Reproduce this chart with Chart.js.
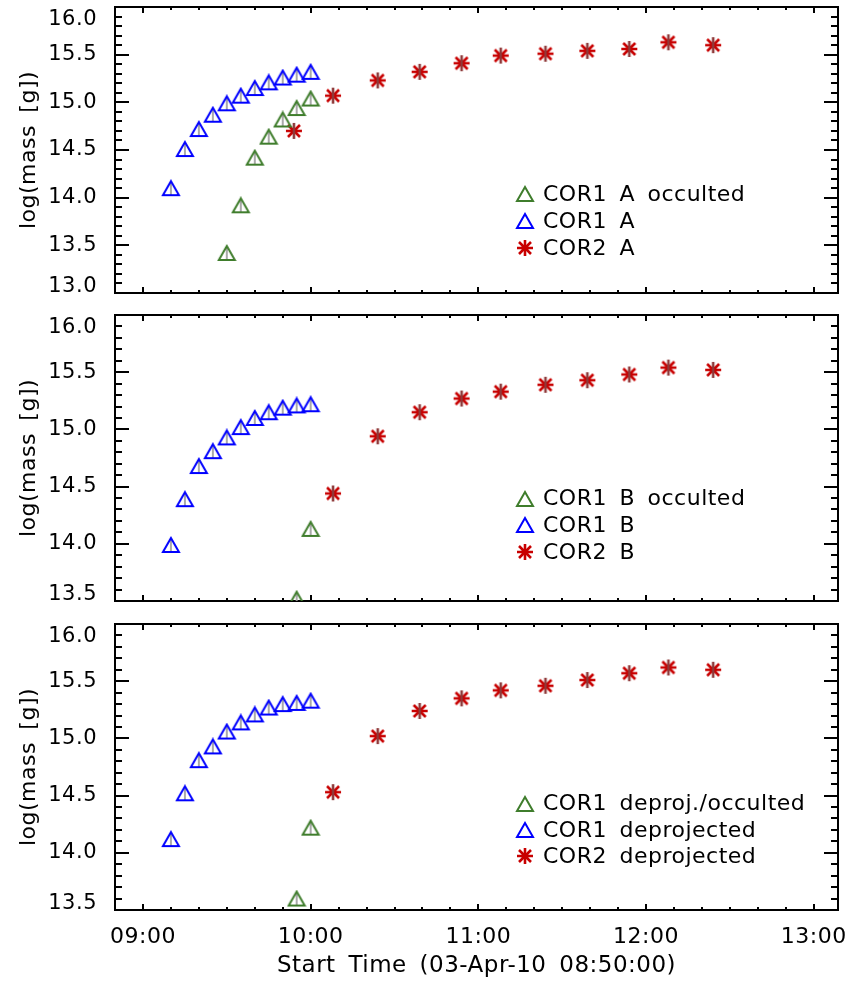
<!DOCTYPE html>
<html>
<head>
<meta charset="utf-8">
<script src="https://cdn.jsdelivr.net/npm/chart.js@4/dist/chart.umd.min.js"></script>
<style>
  html, body { margin: 0; padding: 0; background: #ffffff; }
  #wrap { position: relative; width: 849px; height: 983px; background: #ffffff; }
  canvas { position: absolute; left: 0; }
</style>
</head>
<body>
<div id="wrap">
  <canvas id="c1" width="849" height="305" style="top:0px"></canvas>
  <canvas id="c2" width="849" height="310" style="top:303px"></canvas>
  <canvas id="c3" width="849" height="371" style="top:612px"></canvas>
</div>
<script>
// ---------------- DATA ----------------
const X_ORIGIN = '08:50';                       // "Start Time"
const X_TICK_LABELS = ['09:00', '10:00', '11:00', '12:00', '13:00'];
const X_END = '13:08:40';

const COR1_TIMES   = ['09:10','09:15','09:20','09:25','09:30','09:35','09:40','09:45','09:50','09:55','10:00'];
const OCC_TIMES_A  = ['09:30','09:35','09:40','09:45','09:50','09:55','10:00'];
const OCC_TIMES_B  = ['09:55','10:00'];
const COR2_TIMES_A = ['09:54','10:08','10:24','10:39','10:54','11:08','11:24','11:39','11:54','12:08','12:24'];
const COR2_TIMES_B = ['10:08','10:24','10:39','10:54','11:08','11:24','11:39','11:54','12:08','12:24'];

// Panel 1 : STEREO A
const occA  = [13.42, 13.92, 14.42, 14.64, 14.82, 14.94, 15.04];
const cor1A = [14.10, 14.51, 14.72, 14.87, 14.99, 15.07, 15.15, 15.21, 15.26, 15.29, 15.32];
const cor2A = [14.70, 15.07, 15.23, 15.32, 15.41, 15.49, 15.51, 15.54, 15.56, 15.63, 15.60];
// Panel 2 : STEREO B
const occB  = [13.52, 14.13];
const cor1B = [13.99, 14.39, 14.68, 14.81, 14.93, 15.02, 15.10, 15.15, 15.19, 15.21, 15.22];
const cor2B = [14.44, 14.94, 15.15, 15.27, 15.33, 15.39, 15.43, 15.48, 15.54, 15.52];
// Panel 3 : deprojected
const occD  = [13.60, 14.22];
const cor1D = [14.12, 14.52, 14.81, 14.93, 15.06, 15.14, 15.21, 15.27, 15.30, 15.31, 15.33];
const cor2D = [14.53, 15.02, 15.24, 15.35, 15.42, 15.46, 15.51, 15.57, 15.62, 15.60];

const Y_TICKS_1   = [13.0, 13.5, 14.0, 14.5, 15.0, 15.5, 16.0];
const Y_TICKS_23  = [13.5, 14.0, 14.5, 15.0, 15.5, 16.0];

const LABELS_1 = ['COR1 A occulted', 'COR1 A', 'COR2 A'];
const LABELS_2 = ['COR1 B occulted', 'COR1 B', 'COR2 B'];
const LABELS_3 = ['COR1 deproj./occulted', 'COR1 deprojected', 'COR2 deprojected'];

// ---------------- HELPERS ----------------
function toMin(t) {               // minutes since X_ORIGIN
  const p = t.split(':').map(Number);
  const o = X_ORIGIN.split(':').map(Number);
  return (p[0] * 60 + p[1] + (p[2] || 0) / 60) - (o[0] * 60 + o[1]);
}
function pts(times, vals) { return vals.map((v, i) => ({ x: toMin(times[i]), y: v })); }

const FONT = 'DejaVu Sans';
const GREEN = '#3f7d2c', BLUE = '#0000ff', RED = '#c80000';

function triImg(color, stem) {
  const c = document.createElement('canvas'); c.width = 20; c.height = 18;
  const g = c.getContext('2d');
  if (stem) { g.strokeStyle = '#a0a0a0'; g.lineWidth = 1.8; g.beginPath(); g.moveTo(10, 4); g.lineTo(10, 15.5); g.stroke(); }
  g.strokeStyle = color; g.lineWidth = 2; g.lineJoin = 'miter';
  g.beginPath(); g.moveTo(2, 16); g.lineTo(10, 2); g.lineTo(18, 16); g.closePath(); g.stroke();
  return c;
}
function starImg(color, stemColor) {
  const c = document.createElement('canvas'); c.width = 20; c.height = 20;
  const g = c.getContext('2d');
  g.strokeStyle = color; g.lineWidth = 2.6;
  g.beginPath();
  g.moveTo(2, 10); g.lineTo(18, 10);
  g.moveTo(4, 4); g.lineTo(16, 16);
  g.moveTo(16, 4); g.lineTo(4, 16);
  g.stroke();
  g.strokeStyle = stemColor; g.lineWidth = 2.6;
  g.beginPath(); g.moveTo(10, 2); g.lineTo(10, 18); g.stroke();
  return c;
}
const TRI_G = triImg(GREEN, true), TRI_B = triImg(BLUE, true), STAR_R = starImg(RED, '#8e3a3a');
const LTRI_G = triImg(GREEN, false), LTRI_B = triImg(BLUE, false), LSTAR_R = starImg(RED, RED);

// ---------------- PLUGIN: IDL-style frame, inward ticks, legend ----------------
const idlAxes = {
  id: 'idlAxes',
  beforeDraw(chart) {
    chart.ctx.letterSpacing = '0.5px';
    chart.ctx.wordSpacing = '5px';
  },
  beforeDatasetsDraw(chart) {
    const ctx = chart.ctx;
    const { left, right, top, bottom } = chart.chartArea;
    const xs = chart.scales.x, ys = chart.scales.y;
    ctx.save();
    ctx.strokeStyle = '#000'; ctx.lineWidth = 2;
    ctx.beginPath();
    for (let k = Math.round(ys.min * 10); k <= Math.round(ys.max * 10); k++) {
      const p = Math.round(ys.getPixelForValue(k / 10));
      const len = (k % 5 === 0) ? 14 : 7;
      ctx.moveTo(left, p); ctx.lineTo(left + len, p);
      ctx.moveTo(right, p); ctx.lineTo(right - len, p);
    }
    for (let m = 0; m <= xs.max + 1e-6; m += 10) {
      const p = Math.round(xs.getPixelForValue(m));
      const len = ((m - 10) % 60 === 0) ? 6 : 3;
      ctx.moveTo(p, bottom); ctx.lineTo(p, bottom - len);
      ctx.moveTo(p, top); ctx.lineTo(p, top + len);
    }
    ctx.stroke();
    ctx.strokeRect(left, top, right - left, bottom - top);
    ctx.restore();
  },
  afterDatasetsDraw(chart, args, opts) {
    const ctx = chart.ctx;
    const { left, top } = chart.chartArea;
    ctx.save();
    ctx.font = '22px "' + FONT + '"';
    ctx.fillStyle = '#000'; ctx.textBaseline = 'middle'; ctx.textAlign = 'left';
    chart.data.datasets.forEach((ds, i) => {
      const y = top + opts.y0 + i * opts.dy;
      const img = ds.legendSymbol;
      ctx.drawImage(img, Math.round(left + opts.symX - img.width / 2), Math.round(y - img.height / 2));
      ctx.fillText(ds.label, left + opts.textX, y + 1);
    });
    ctx.restore();
  }
};

function makeChart(id, sets, labels, yMin, yMax, yTicks, showX, pad, legendPos) {
  const datasets = [
    { label: labels[0], data: pts(sets[0][0], sets[0][1]), pointStyle: TRI_G, legendSymbol: LTRI_G },
    { label: labels[1], data: pts(sets[1][0], sets[1][1]), pointStyle: TRI_B, legendSymbol: LTRI_B },
    { label: labels[2], data: pts(sets[2][0], sets[2][1]), pointStyle: STAR_R, legendSymbol: LSTAR_R }
  ].map(d => Object.assign(d, { showLine: false, pointRadius: 8, pointHoverRadius: 8, clip: 0 }));

  return new Chart(document.getElementById(id), {
    type: 'scatter',
    data: { datasets },
    plugins: [idlAxes],
    options: {
      responsive: false, animation: false, devicePixelRatio: 1,
      events: [],
      layout: { padding: pad, autoPadding: false },
      plugins: {
        legend: { display: false }, tooltip: { enabled: false },
        idlAxes: legendPos
      },
      scales: {
        x: {
          type: 'linear', display: showX,
          min: 0, max: toMin(X_END),
          grid: { display: false, drawTicks: false }, border: { display: false },
          afterBuildTicks: s => { s.ticks = X_TICK_LABELS.map(t => ({ value: toMin(t) })); },
          afterFit: s => { s.height = showX ? 73 : 0; s.paddingLeft = 0; s.paddingRight = 0; },
          ticks: {
            autoSkip: false, maxRotation: 0, padding: 14, color: '#000',
            font: { family: FONT, size: 22 },
            callback: (v, i) => X_TICK_LABELS[i]
          },
          title: {
            display: true, text: 'Start Time (03-Apr-10 08:50:00)', color: '#000',
            font: { family: FONT, size: 23 }, padding: { top: 0, bottom: 3 }
          }
        },
        y: {
          type: 'linear', min: yMin, max: yMax,
          grid: { display: false, drawTicks: false }, border: { display: false },
          afterBuildTicks: s => { s.ticks = yTicks.map(v => ({ value: v })); },
          afterFit: s => { s.width = 115; s.paddingTop = 0; s.paddingBottom = 0; },
          ticks: {
            autoSkip: false, padding: 18, color: '#000',
            font: c => ({ family: FONT, size: 21, lineHeight: c.index === 0 ? 0.6 : 1.2 }),
            // IDL nudges the end labels inside the frame
            callback: (v, i) => {
              const s = yTicks[i].toFixed(1);
              if (i === yTicks.length - 1) return ['', s];
              if (i === 0) return [s, ''];
              return s;
            }
          },
          title: {
            display: true, text: 'log(mass [g])', color: '#000',
            font: { family: FONT, size: 22 }, padding: { top: 16, bottom: 0 }
          }
        }
      }
    }
  });
}

makeChart('c1',
  [[OCC_TIMES_A, occA], [COR1_TIMES, cor1A], [COR2_TIMES_A, cor2A]],
  LABELS_1, 13.0, 16.0, Y_TICKS_1, false,
  { left: 0, right: 11, top: 7, bottom: 12 },
  { symX: 410, textX: 428, y0: 187, dy: 27 });

makeChart('c2',
  [[OCC_TIMES_B, occB], [COR1_TIMES, cor1B], [COR2_TIMES_B, cor2B]],
  LABELS_2, 13.5, 16.0, Y_TICKS_23, false,
  { left: 0, right: 11, top: 12, bottom: 12 },
  { symX: 410, textX: 428, y0: 183.5, dy: 26.7 });

makeChart('c3',
  [[OCC_TIMES_B, occD], [COR1_TIMES, cor1D], [COR2_TIMES_B, cor2D]],
  LABELS_3, 13.5, 16.0, Y_TICKS_23, true,
  { left: 0, right: 11, top: 12, bottom: 0 },
  { symX: 410, textX: 428, y0: 179.5, dy: 26.3 });
</script>
</body>
</html>
